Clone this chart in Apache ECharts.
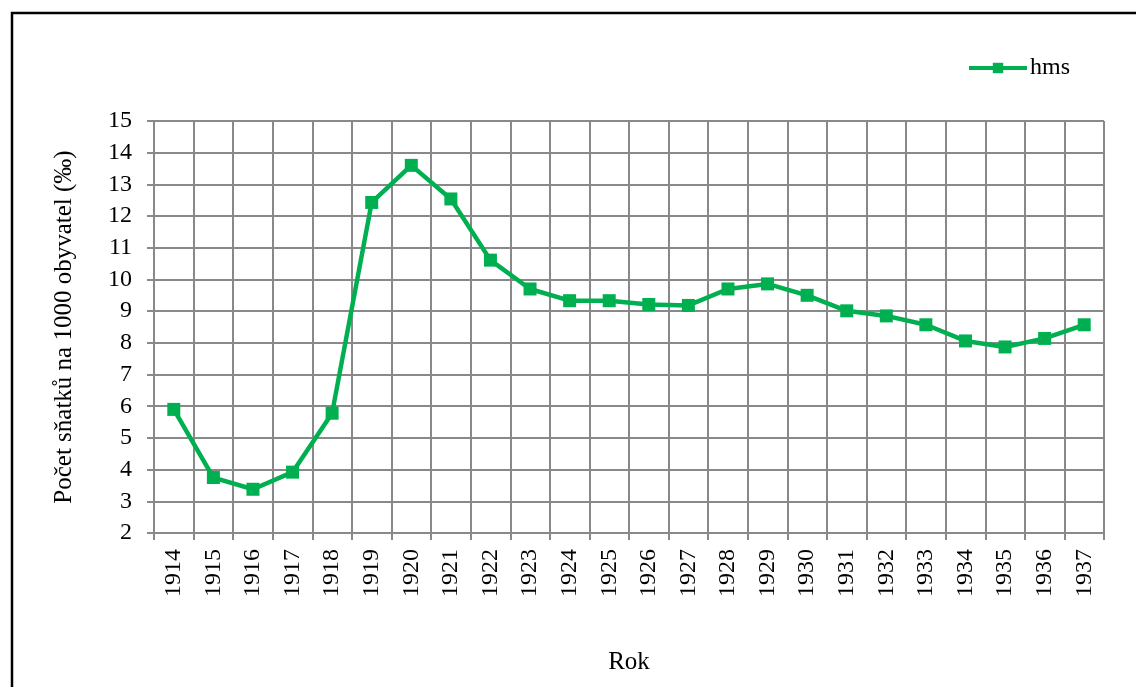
<!DOCTYPE html>
<html><head><meta charset="utf-8">
<script src="https://cdn.jsdelivr.net/npm/echarts@6/dist/echarts.min.js"></script>
<style>html,body{margin:0;padding:0;background:#fff}#c{width:1136px;height:687px}</style>
</head><body><div id="c"></div>
<script>
const years = ['1914','1915','1916','1917','1918','1919','1920','1921','1922','1923','1924','1925','1926','1927','1928','1929','1930','1931','1932','1933','1934','1935','1936','1937'];
const hms = [5.9,3.75,3.38,3.92,5.78,12.43,13.6,12.54,10.61,9.7,9.33,9.33,9.21,9.18,9.7,9.86,9.5,9.01,8.85,8.57,8.06,7.87,8.14,8.57];
const seriesName = 'hms';
const yName = 'Počet sňatků na 1000 obyvatel (‰)';
const xName = 'Rok';

const chart = echarts.init(document.getElementById('c'), null, {renderer:'canvas'});
const font = 'Liberation Serif';
const grid = '#898989';
chart.setOption({
  animation:false,
  textStyle:{fontFamily:font},
  graphic:[{type:'rect',shape:{x:12,y:13,width:1200,height:800},style:{fill:'none',stroke:'#000',lineWidth:2.5},silent:true}],
  legend:{left:962,top:51,itemWidth:58,itemHeight:13,itemGap:0,
    lineStyle:{width:4},
    textStyle:{fontFamily:font,fontSize:24,color:'#000',padding:[0,0,0,-2]},
    data:[{name:seriesName,lineStyle:{width:4,color:'#00B050'}}]},
  grid:{left:154,right:32,top:121,bottom:154,containLabel:false},
  xAxis:{type:'category',data:years,boundaryGap:true,
    name:xName,nameLocation:'middle',nameGap:117,
    nameTextStyle:{fontFamily:font,fontSize:25,color:'#000'},
    axisLine:{lineStyle:{color:grid,width:2}},
    axisTick:{show:true,alignWithLabel:false,length:7,lineStyle:{color:grid,width:2}},
    axisLabel:{rotate:90,fontFamily:font,fontSize:24,color:'#000',margin:16,interval:0},
    splitLine:{show:true,interval:0,lineStyle:{color:grid,width:2}}},
  yAxis:{type:'value',min:2,max:15,interval:1,
    name:yName,nameLocation:'middle',nameGap:77,nameRotate:90,
    nameTextStyle:{fontFamily:font,fontSize:25,color:'#000'},
    axisLine:{show:true,lineStyle:{color:grid,width:2}},
    axisTick:{show:true,length:7,lineStyle:{color:grid,width:2}},
    axisLabel:{fontFamily:font,fontSize:24,color:'#000',margin:22},
    splitLine:{show:true,lineStyle:{color:grid,width:2}}},
  series:[{name:seriesName,type:'line',data:hms,symbol:'rect',symbolSize:13,
    lineStyle:{color:'#00B050',width:4.5},itemStyle:{color:'#00B050'}}]
});
</script></body></html>
